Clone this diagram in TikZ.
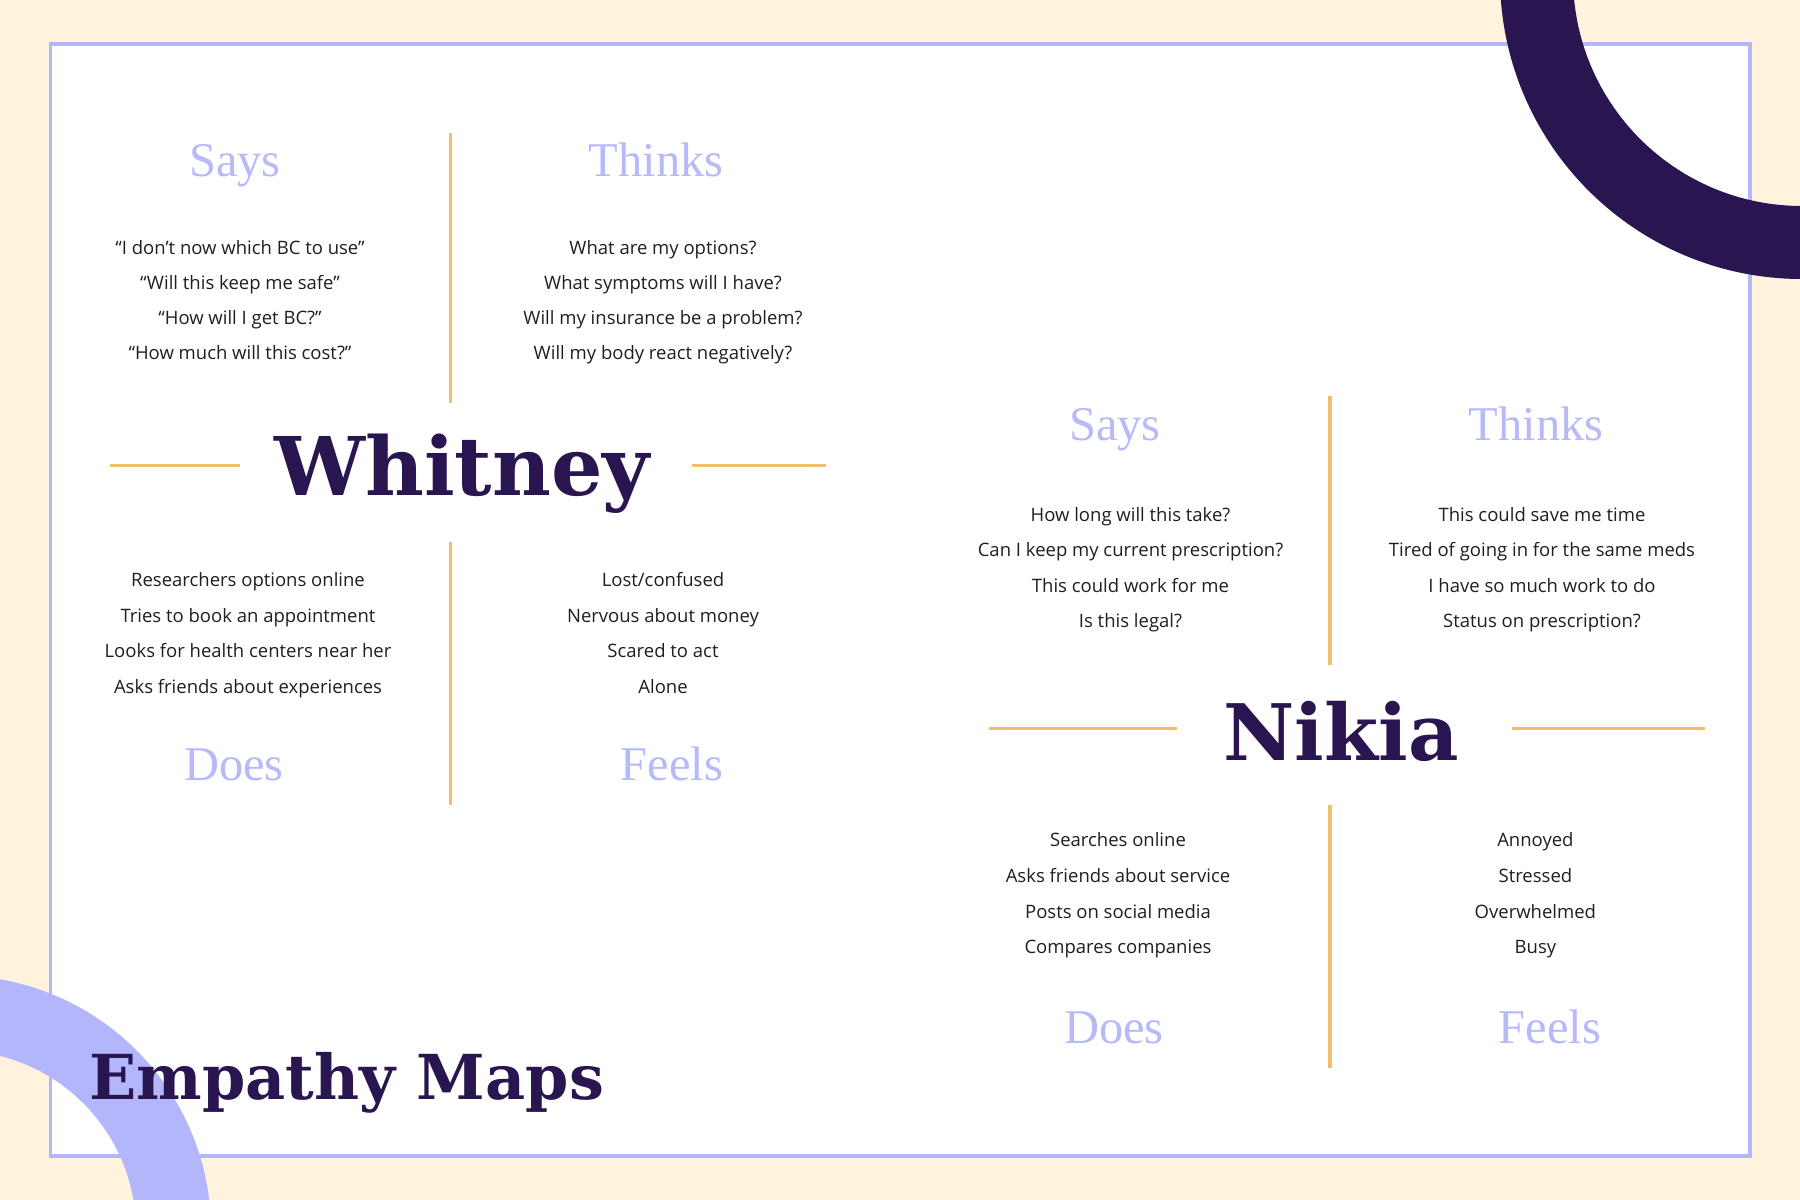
\documentclass[tikz,border=0pt]{standalone}
\usepackage{fontspec}
\setmainfont{Open Sans}
\newfontfamily\headfont{Liberation Serif}
\newfontfamily\namefont{DejaVu Serif}
\definecolor{cream}{HTML}{FFF3DD}
\definecolor{lav}{HTML}{B3B6FB}
\definecolor{headc}{HTML}{B7BAF9}
\definecolor{darkp}{HTML}{29154F}
\definecolor{orng}{HTML}{F2BE6B}
\definecolor{bodyc}{HTML}{1F1F1F}
\tikzset{
  body/.style={anchor=base, inner sep=0pt, text=bodyc, font=\fontsize{18.5}{22}\selectfont},
  head/.style={anchor=base, inner sep=0pt, text=headc, font=\headfont\fontsize{48.5}{50}\selectfont},
  pname/.style={anchor=base, inner sep=0pt, text=darkp, font=\namefont\bfseries\fontsize{78}{80}\selectfont},
  divider/.style={draw=orng, line width=3.5pt},
}
\begin{document}
\begin{tikzpicture}[x=1pt,y=-1pt]
\useasboundingbox (0,0) rectangle (1800,1200);
\fill[cream] (0,0) rectangle (1800,1200);
\fill[white] (50.5,44) rectangle (1750,1156);
\draw[lav, line width=3.5pt] (50.5,44) rectangle (1750,1156);
\begin{scope}
\clip (0,0) rectangle (1800,1200);
\fill[lav, even odd rule] (-44,1230.5) circle[radius=255] (-44,1230.5) circle[radius=180];
\fill[darkp, even odd rule] (1802,-23) circle[radius=302] (1802,-23) circle[radius=229];
\end{scope}

% ---------- Whitney ----------
\node[head] (wsays) at (235,176.8) {Says};
\node[head] (wthinks) at (656,176.8) {Thinks};
\node[head] (wdoes) at (234,780) {Does};
\node[head] (wfeels) at (672,780) {Feels};
\node[pname, font=\namefont\bfseries\fontsize{81}{84}\selectfont] (whitney) at (462,495.6) {Whitney};

\foreach \t [count=\i] in {{“I don’t now which BC to use”},{“Will this keep me safe”},{“How will I get BC?”},{“How much will this cost?”}}
  \node[body] (ws\i) at (240,{254.5+35.15*(\i-1)}) {\t};
\foreach \t [count=\i] in {{What are my options?},{What symptoms will I have?},{Will my insurance be a problem?},{Will my body react negatively?}}
  \node[body] (wt\i) at (663,{254.5+35.15*(\i-1)}) {\t};
\foreach \t [count=\i] in {{Researchers options online},{Tries to book an appointment},{Looks for health centers near her},{Asks friends about experiences}}
  \node[body] (wd\i) at (248,{586.5+35.5*(\i-1)}) {\t};
\foreach \t [count=\i] in {{Lost/confused},{Nervous about money},{Scared to act},{Alone}}
  \node[body] (wf\i) at (663,{586.5+35.5*(\i-1)}) {\t};

\coordinate (wvt1) at (450.6,133);
\coordinate (wvt2) at (450.6,402.6);
\coordinate (wvb1) at (450.6,541.5);
\coordinate (wvb2) at (450.6,804.7);
\coordinate (whl1) at (110,465.4);
\coordinate (whl2) at (240,465.4);
\coordinate (whr1) at (691.7,465.4);
\coordinate (whr2) at (825.5,465.4);
\draw[divider] (wvt1) -- (wvt2);
\draw[divider] (wvb1) -- (wvb2);
\draw[divider] (whl1) -- (whl2);
\draw[divider] (whr1) -- (whr2);

% ---------- Nikia ----------
\node[head] (nsays) at (1115,440) {Says};
\node[head] (nthinks) at (1536,440) {Thinks};
\node[head] (ndoes) at (1114,1043) {Does};
\node[head] (nfeels) at (1550,1043) {Feels};
\node[pname] (nikia) at (1341,760.7) {Nikia};

\foreach \t [count=\i] in {{How long will this take?},{Can I keep my current prescription?},{This could work for me},{Is this legal?}}
  \node[body] (ns\i) at (1130.5,{521+35.5*(\i-1)}) {\t};
\foreach \t [count=\i] in {{This could save me time},{Tired of going in for the same meds},{I have so much work to do},{Status on prescription?}}
  \node[body] (nt\i) at (1542,{521+35.5*(\i-1)}) {\t};
\foreach \t [count=\i] in {{Searches online},{Asks friends about service},{Posts on social media},{Compares companies}}
  \node[body] (nd\i) at (1118,{846.8+35.6*(\i-1)}) {\t};
\foreach \t [count=\i] in {{Annoyed},{Stressed},{Overwhelmed},{Busy}}
  \node[body] (nf\i) at (1535.4,{846.8+35.6*(\i-1)}) {\t};

\coordinate (nvt1) at (1330,396);
\coordinate (nvt2) at (1330,665);
\coordinate (nvb1) at (1330,804.7);
\coordinate (nvb2) at (1330,1067.7);
\coordinate (nhl1) at (989,728.6);
\coordinate (nhl2) at (1177.3,728.6);
\coordinate (nhr1) at (1512,728.6);
\coordinate (nhr2) at (1704.8,728.6);
\draw[divider] (nvt1) -- (nvt2);
\draw[divider] (nvb1) -- (nvb2);
\draw[divider] (nhl1) -- (nhl2);
\draw[divider] (nhr1) -- (nhr2);

% ---------- Title ----------
\node[anchor=base west, inner sep=0pt, text=darkp, font=\namefont\bfseries\fontsize{62}{66}\selectfont] (title) at (89,1099.4) {Empathy Maps};
\end{tikzpicture}
\end{document}
